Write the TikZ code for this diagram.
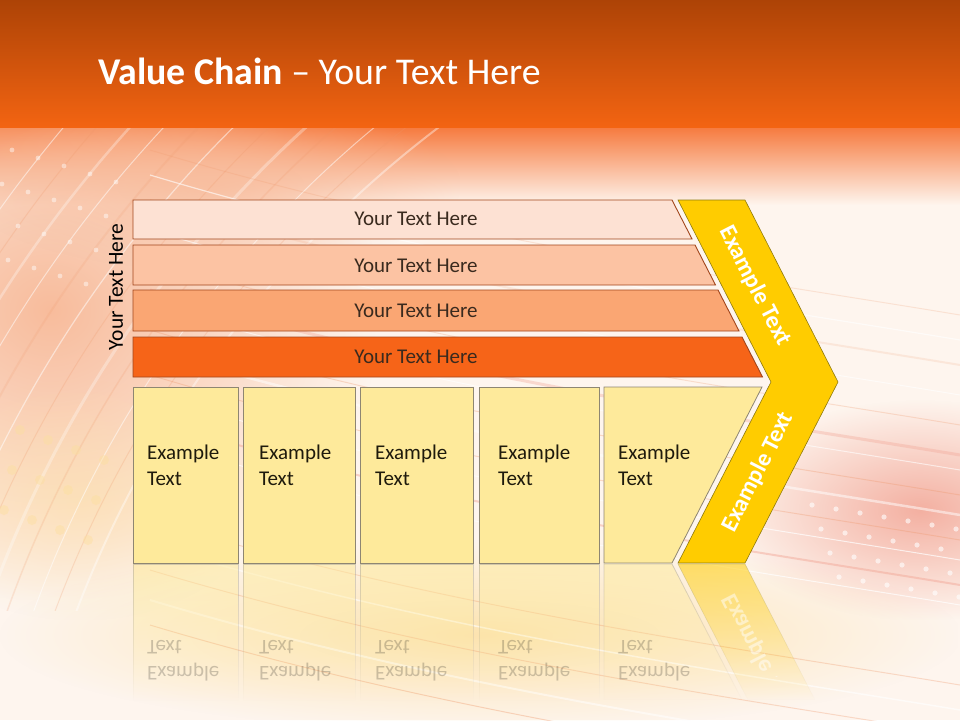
\documentclass[tikz,border=0pt]{standalone}
\usepackage{fontspec}
\setmainfont{Carlito}
\usetikzlibrary{fadings}
\definecolor{bgc}{HTML}{FEF5EE}
\definecolor{bantop}{HTML}{AD4306}
\definecolor{banbot}{HTML}{F36412}
\definecolor{trA}{HTML}{F67A3E}
\definecolor{trB}{HTML}{FBC8AA}
\definecolor{peach}{HTML}{F8BC9C}
\definecolor{pinkb}{HTML}{F2A494}
\definecolor{yelb}{HTML}{FCDFA0}
\definecolor{streak}{HTML}{EE9466}
\definecolor{barA}{HTML}{FDE1D3}
\definecolor{barB}{HTML}{FCC3A3}
\definecolor{barC}{HTML}{FAA673}
\definecolor{barD}{HTML}{F66418}
\definecolor{barline}{HTML}{A2461C}
\definecolor{boxfill}{HTML}{FEEA9B}
\definecolor{boxline}{HTML}{8E8672}
\definecolor{chev}{HTML}{FFCC00}
\definecolor{chevline}{HTML}{8F7A0C}
\definecolor{bartxt}{HTML}{3A2A1E}
\definecolor{boxtxt}{HTML}{1E1A0C}
\tikzfading[name=reflfade, top color=transparent!45, bottom color=transparent!100]
\tikzfading[name=softblob, inner color=transparent!0, outer color=transparent!100]
\begin{document}
\begin{tikzpicture}[x=1pt,y=-1pt,
  bartext/.style={font=\fontsize{21}{25}\selectfont, text=bartxt, inner sep=0pt},
  boxtext/.style={font=\fontsize{21}{26}\selectfont, text=boxtxt, inner sep=0pt, align=left, anchor=north west},
  chevtext/.style={font=\bfseries\fontsize{24}{28}\selectfont, text=white, inner sep=0pt},
  barshape/.style={draw=barline, line width=0.9pt},
  boxshape/.style={fill=boxfill, draw=boxline, line width=0.8pt},
  chevshape/.style={fill=chev, draw=chevline, line width=0.6pt},
  reflbox/.style={fill=boxfill, draw=boxline!70, line width=0.8pt, path fading=reflfade},
  reflchev/.style={fill=chev, draw=chevline!60, line width=0.6pt, path fading=reflfade},
  refltext/.style={boxtext, transform shape, text opacity=0.2, text=black},
  dotw/.style={white, opacity=0.6},
]
\useasboundingbox (0,0) rectangle (960,720);
% ---------- background ----------
\fill[bgc] (0,0) rectangle (960,720);
\shade[top color=trA, middle color=trB, bottom color=bgc] (0,127) rectangle (960,205);
\fill[peach, path fading=softblob] (-280,20) rectangle (380,600);
\fill[peach, opacity=0.8, path fading=softblob] (-40,100) rectangle (460,270);
\fill[yelb, opacity=0.5, path fading=softblob] (-100,380) rectangle (260,620);
\fill[pinkb, opacity=0.85, path fading=softblob] (720,400) rectangle (1120,620);
\fill[yelb, opacity=0.8, path fading=softblob] (0,540) rectangle (960,730);
% arcs on the left
\begin{scope}
  \clip (0,127) rectangle (540,610);
  \foreach \r/\w/\c/\o in {1095/2/white/0.4, 1115/1/streak/0.22, 1135/1/white/0.5,
      1160/1.5/streak/0.18, 1180/3/white/0.3, 1205/1/streak/0.22, 1230/1.2/white/0.5,
      1255/2/streak/0.15, 1280/1/white/0.5, 1305/2.5/white/0.3, 1330/1/streak/0.22,
      1355/1/white/0.5}
    \draw[\c, line width=\w pt, opacity=\o] plot[domain=0:60, samples=40, smooth]
      ({1100-\r*cos(\x)},{1000-\r*sin(\x)});
\end{scope}
% streaks on the right and bottom
\foreach \s/\w/\c/\o in {150/1/streak/0.2, 175/1.2/white/0.6, 200/2/streak/0.15,
    230/1/white/0.6, 260/1/streak/0.25, 290/3/pinkb/0.35, 305/1/white/0.6,
    330/1/streak/0.3, 350/2.5/white/0.5, 375/1/streak/0.3, 395/1/white/0.7,
    420/2/pinkb/0.45, 440/1/white/0.7, 520/1/streak/0.3, 545/1.5/white/0.6,
    570/1/streak/0.3, 600/2/white/0.5, 625/1/streak/0.35}
  \draw[\c, line width=\w pt, opacity=\o] (150,\s) .. controls (450,{\s+90}) and (750,{\s+130}) .. (960,{\s+165});
% dots
\foreach \i in {0,...,6}
  \foreach \j in {0,...,3}
    \fill[dotw] ({812+24*\i+9*\j},{505+24*\j+4*\i}) circle (2.6);
\foreach \i in {0,...,4}
  \foreach \j in {0,...,3}
    \fill[dotw, opacity=0.45] ({12+26*\i-10*\j},{150+34*\j+8*\i}) circle (2.4);
\foreach \i in {0,...,3}
  \foreach \j in {0,...,2}
    \fill[yelb, opacity=0.45] ({20+28*\i-8*\j},{430+40*\j+10*\i}) circle (5);
% ---------- banner ----------
\shade[top color=bantop, bottom color=banbot] (0,0) rectangle (960,127);
\node[anchor=base west, inner sep=0pt, text=white, font=\fontsize{37.8}{42}\selectfont]
  (title) at (98,84) {\textbf{Value Chain} – Your Text Here};
% ---------- bars ----------
\path[barshape, fill=barA] (133,200) -- (672,200) -- (692,239) -- (133,239) -- cycle;
\path[barshape, fill=barB] (133,245) -- (695,245) -- (715.5,285) -- (133,285) -- cycle;
\path[barshape, fill=barC] (133,290) -- (718,290) -- (739,331) -- (133,331) -- cycle;
\path[barshape, fill=barD] (133,337) -- (742,337) -- (762.5,377) -- (133,377) -- cycle;
\node[bartext] (t1) at (416,219) {Your Text Here};
\node[bartext] (t2) at (416,265.5) {Your Text Here};
\node[bartext] (t3) at (416,311) {Your Text Here};
\node[bartext] (t4) at (416,357) {Your Text Here};
\node[bartext, text=black, font=\fontsize{21.5}{25}\selectfont, rotate=90] (side) at (116,287) {Your Text Here};
% ---------- boxes ----------
\path[boxshape] (133,387) rectangle (238,563);
\path[boxshape] (243,387) rectangle (355,563);
\path[boxshape] (360,387) rectangle (473,563);
\path[boxshape] (479,387) rectangle (599,563);
\path[boxshape] (604,387) -- (762,387) -- (672,563) -- (604,563) -- cycle;
\node[boxtext] (b1) at (147,444.3) {Example\\Text};
\node[boxtext] (b2) at (259,444.3) {Example\\Text};
\node[boxtext] (b3) at (375,444.3) {Example\\Text};
\node[boxtext] (b4) at (498,444.3) {Example\\Text};
\node[boxtext] (b5) at (618,444.3) {Example\\Text};
% ---------- chevron ----------
\path[chevshape] (678,200) -- (745,200) -- (838,382) -- (745,563) -- (678,563) -- (771,382) -- cycle;
\node[chevtext, rotate=-62.9] (c1) at (755,286) {Example Text};
\node[chevtext, rotate=62.9] (c2) at (758,472) {Example Text};
% ---------- reflection ----------
\path[reflbox] (133,564) rectangle (238,700);
\path[reflbox] (243,564) rectangle (355,700);
\path[reflbox] (360,564) rectangle (473,700);
\path[reflbox] (479,564) rectangle (599,700);
\path[reflbox] (604,564) -- (672,564) -- (742,700) -- (604,700) -- cycle;
\path[reflchev] (678,564) -- (745,564) -- (815,700) -- (748,700) -- cycle;
\begin{scope}[shift={(0,563)}, yscale=-1, shift={(0,-563)}]
  \clip (0,430) rectangle (960,563);
  \node[refltext] (rb1) at (147,444.3) {Example\\Text};
  \node[refltext] (rb2) at (259,444.3) {Example\\Text};
  \node[refltext] (rb3) at (375,444.3) {Example\\Text};
  \node[refltext] (rb4) at (498,444.3) {Example\\Text};
  \node[refltext] (rb5) at (618,444.3) {Example\\Text};
\end{scope}
\begin{scope}[shift={(0,563)}, yscale=-1, shift={(0,-563)}]
  \clip (600,450) rectangle (960,563);
  \node[chevtext, transform shape, rotate=62.9, text opacity=0.5] (rc) at (758,472) {Example Text};
\end{scope}
\end{tikzpicture}
\end{document}
